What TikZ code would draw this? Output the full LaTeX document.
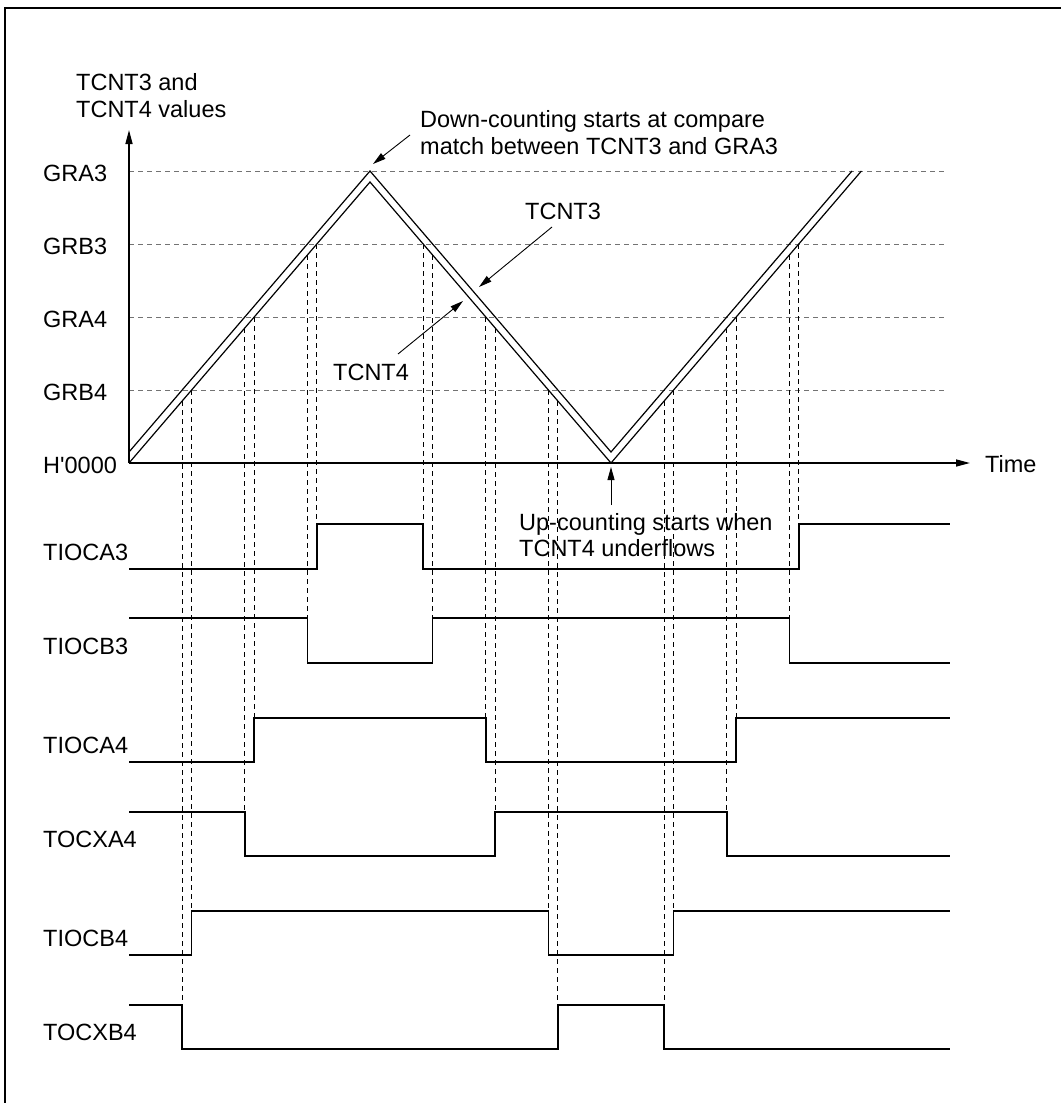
\documentclass[tikz,border=0pt]{standalone}
\usepackage{fontspec}
\setmainfont{Liberation Sans}
\usetikzlibrary{arrows.meta}
\begin{document}
\begin{tikzpicture}[x=1pt,y=-1pt,
  lbl/.style={anchor=base west,inner sep=0pt,font=\fontsize{23.5}{27}\selectfont},
  levelline/.style={draw=black!55,line width=1pt,dash pattern=on 5pt off 4pt},
  guide/.style={draw=black,line width=0.9pt,dash pattern=on 5pt off 4pt},
  counter/.style={draw=black,line width=1.2pt,line join=miter},
  wave/.style={draw=black,line width=1.5pt},
  axisline/.style={draw=black,line width=1.5pt,-{Triangle[length=14pt,width=7pt]}},
  annot/.style={draw=black,line width=0.9pt,-{Triangle[length=13pt,width=7pt]}},
  frameline/.style={draw=black,line width=2pt}]
\useasboundingbox (0,0) rectangle (1061,1103);
% frame (only top and left edges visible)
\draw[frameline] (5,1103) -- (5,8) -- (1061,8);

% axis labels
\node[lbl] (ylab1) at (76,90) {TCNT3 and};
\node[lbl] (ylab2) at (76,117) {TCNT4 values};
\node[lbl] (gra3) at (43,181) {GRA3};
\node[lbl] (grb3) at (43,254) {GRB3};
\node[lbl] (gra4) at (43,327) {GRA4};
\node[lbl] (grb4) at (43,400) {GRB4};
\node[lbl] (zero) at (43,473) {H\textquotesingle 0000};
\node[lbl] (time) at (985,472) {Time};

% level lines
\foreach \L in {171,244,317,390}
  \draw[levelline] (129,\L) -- (947,\L);

% axes
\coordinate (O) at (129,463);
\coordinate (ytip) at (129,130);
\coordinate (xtip) at (970,463);
\draw[axisline] (O) -- (ytip);
\draw[axisline] (O) -- (xtip);

% guide lines (dashed verticals)
\foreach \x/\a/\b in {182.2/401/1049, 191.6/390/955, 244.8/328/856, 254.2/317/762,
  307.4/255/663, 316.8/244/569, 423.2/244/569, 432.6/255/663, 485.8/317/762,
  495.2/328/856, 548.4/390/955, 557.8/401/1049, 664.2/401/1049, 673.6/390/955,
  726.8/328/856, 736.2/317/762, 789.4/255/663, 798.8/244/569}
  \draw[guide] (\x,\a) -- (\x,\b);

% counters
\draw[counter] (129,452) -- (370,171) -- (611,452) -- (852,171);
\draw[counter] (129,463) -- (370,182) -- (611,463) -- (861.4,171);

% signal labels
\node[lbl] (sA3) at (43,560) {TIOCA3};
\node[lbl] (sB3) at (43,654) {TIOCB3};
\node[lbl] (sA4) at (43,753) {TIOCA4};
\node[lbl] (sXA4) at (43,847) {TOCXA4};
\node[lbl] (sB4) at (43,946) {TIOCB4};
\node[lbl] (sXB4) at (43,1040) {TOCXB4};

% waveforms
\draw[wave] (129,569) -- (316.8,569) -- (316.8,524) -- (423.2,524) -- (423.2,569) -- (798.8,569) -- (798.8,524) -- (950,524);
\draw[wave] (129,618) -- (307.4,618) -- (307.4,663) -- (432.6,663) -- (432.6,618) -- (789.4,618) -- (789.4,663) -- (950,663);
\draw[wave] (129,762) -- (254.2,762) -- (254.2,718) -- (485.8,718) -- (485.8,762) -- (736.2,762) -- (736.2,718) -- (950,718);
\draw[wave] (129,812) -- (244.8,812) -- (244.8,856) -- (495.2,856) -- (495.2,812) -- (726.8,812) -- (726.8,856) -- (950,856);
\draw[wave] (129,955) -- (191.6,955) -- (191.6,911) -- (548.4,911) -- (548.4,955) -- (673.6,955) -- (673.6,911) -- (950,911);
\draw[wave] (129,1005) -- (182.2,1005) -- (182.2,1049) -- (557.8,1049) -- (557.8,1005) -- (664.2,1005) -- (664.2,1049) -- (950,1049);

% annotations
\node[lbl] (dc1) at (420,127) {Down-counting starts at compare};
\node[lbl] (dc2) at (420,154) {match between TCNT3 and GRA3};
\coordinate (dcA) at (410,135);
\coordinate (dcB) at (373,164);
\draw[annot] (dcA) -- (dcB);

\node[lbl] (t3) at (525,219) {TCNT3};
\coordinate (t3A) at (552,227);
\coordinate (t3B) at (479,287);
\draw[annot] (t3A) -- (t3B);

\node[lbl] (t4) at (333,380) {TCNT4};
\coordinate (t4A) at (398,354);
\coordinate (t4B) at (463,301);
\draw[annot] (t4A) -- (t4B);

\node[lbl] (uc1) at (519,530) {Up-counting starts when};
\node[lbl] (uc2) at (519,556) {TCNT4 underflows};
\coordinate (ucA) at (611,505);
\coordinate (ucB) at (611,467);
\draw[annot] (ucA) -- (ucB);
\end{tikzpicture}
\end{document}
